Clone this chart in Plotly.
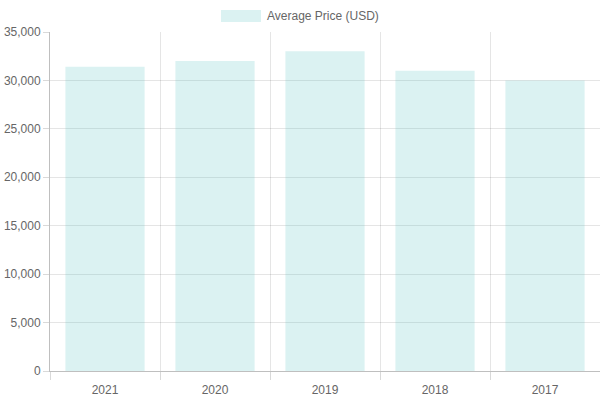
import plotly.graph_objects as go

years = ["2021", "2020", "2019", "2018", "2017"]
avg_price = [31400, 32000, 33000, 31000, 30000]
series_name = "Average Price (USD)"

fill = "rgba(75,192,192,0.2)"
grid = "rgba(0,0,0,0.1)"
font = dict(family="Liberation Sans, Arial, sans-serif", size=12, color="#666")

fig = go.Figure(go.Bar(x=years, y=avg_price, name=series_name,
                       marker=dict(color=fill, line=dict(width=0))))

fig.update_layout(
    width=600, height=400,
    margin=dict(l=50, r=0, t=32, b=29),
    paper_bgcolor="white", plot_bgcolor="white",
    bargap=0.28, showlegend=False, font=font,
)
fig.update_xaxes(type="category", tickson="boundaries", showgrid=True, gridcolor=grid,
                 ticks="outside", ticklen=8, tickcolor="rgba(0,0,0,0.15)", showline=True,
                 linecolor="rgba(0,0,0,0.25)", mirror=False, tickfont=font,
                 ticklabelstandoff=8)
fig.update_yaxes(range=[0, 35000], dtick=5000, tickformat=",", showgrid=True, gridcolor=grid,
                 ticks="outside", ticklen=6, tickcolor="rgba(0,0,0,0.15)", showline=True,
                 linecolor="rgba(0,0,0,0.25)", zeroline=False, tickfont=font)

fig.add_shape(type="rect", xref="paper", yref="paper",
              x0=(221 - 50) / 550, x1=(261 - 50) / 550,
              y0=1 + (32 - 22) / 339, y1=1 + (32 - 10) / 339,
              fillcolor=fill, line=dict(width=0))
fig.add_annotation(text=series_name, xref="paper", yref="paper",
                   x=(265 - 50) / 550, y=1 + (32 - 16) / 339,
                   xanchor="left", yanchor="middle", showarrow=False, font=font)

fig.write_html("out.html", config={"displayModeBar": False},
               post_script="document.body.style.margin='0';")
